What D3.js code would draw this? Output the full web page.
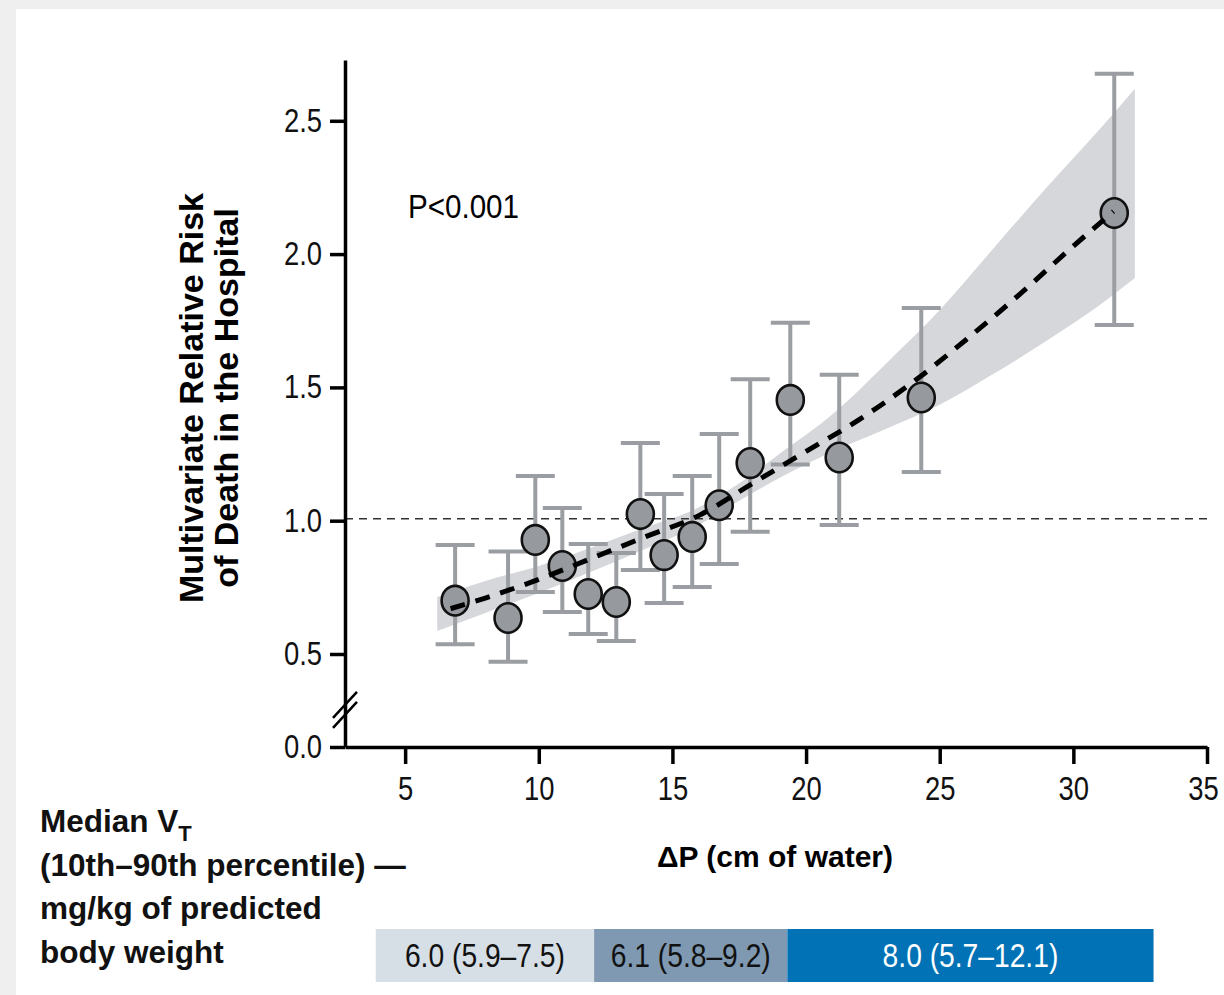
<!DOCTYPE html>
<html>
<head>
<meta charset="utf-8">
<script src="https://cdn.jsdelivr.net/npm/d3@7"></script>
<style>
  body { margin: 0; background: #efefef; }
  svg { display: block; }
  .narrow { font-family: 'Liberation Sans Narrow', 'Liberation Sans', Arial, sans-serif; }
  .bold { font-family: 'Liberation Sans', Arial, sans-serif; font-weight: bold; }
</style>
</head>
<body>
<svg id="chart" width="1224" height="995"></svg>
<script>
// bins of driving pressure (cm of water) with relative risk and 95% CI
const binDP = [6.87, 8.85, 9.87, 10.88, 11.85, 12.9, 13.8, 14.69, 15.74, 16.75, 17.91, 19.41, 21.24, 24.31, 31.53];
const binRR = [0.70, 0.635, 0.928, 0.83, 0.725, 0.695, 1.025, 0.871, 0.939, 1.058, 1.216, 1.453, 1.237, 1.462, 2.154];
const binLo = [0.537, 0.459, 0.733, 0.658, 0.575, 0.549, 0.815, 0.691, 0.751, 0.838, 0.959, 1.211, 0.984, 1.183, 1.734];
const binHi = [0.909, 0.884, 1.168, 1.048, 0.913, 0.879, 1.291, 1.10, 1.168, 1.325, 1.531, 1.742, 1.547, 1.798, 2.676];

// fitted curve (dashed) and its confidence band
const fitDP = [6.7, 8, 10, 12, 14, 16, 18, 20, 22, 24, 26, 28, 30, 31.5];
const fitRR = [0.67, 0.71, 0.78, 0.86, 0.94, 1.02, 1.14, 1.26, 1.38, 1.52, 1.68, 1.85, 2.03, 2.16];

const bandDP = [6.2, 8, 10, 12, 14, 16, 17.5, 19, 21, 23, 25, 27, 29, 31, 32.3];
const bandLo = [0.586, 0.654, 0.729, 0.81, 0.895, 0.985, 1.075, 1.16, 1.26, 1.345, 1.435, 1.55, 1.675, 1.81, 1.91];
const bandHi = [0.714, 0.774, 0.83, 0.90, 0.975, 1.05, 1.14, 1.25, 1.40, 1.59, 1.79, 2.02, 2.25, 2.47, 2.62];

// tick labels
const xTicks = [5, 10, 15, 20, 25, 30, 35];
const yTicks = [0, 0.5, 1.0, 1.5, 2.0, 2.5];

// median tidal volume legend bar: labels and the ΔP span each one covers
const vtLabels = ["6.0 (5.9–7.5)", "6.1 (5.8–9.2)", "8.0 (5.7–12.1)"];
const vtBounds = [3.9, 12.07, 19.3, 33.0];
const vtFill = ["#d6dee6", "#7f99b2", "#0072b5"];
const vtText = ["#111", "#111", "#fff"];

const legendLines = ["Median V", "(10th–90th percentile) —", "mg/kg of predicted", "body weight"];

const svg = d3.select("#chart");

// white panel over the grey page frame
svg.append("rect").attr("x", 16).attr("y", 9).attr("width", 1208).attr("height", 986).attr("fill", "#fff");

const x = d3.scaleLinear().domain([2.75, 35]).range([345, 1207]);
// broken axis: 0 to 0.5 squeezed below the break
const y = d3.scaleLinear().domain([0, 0.5, 2.728]).range([747, 654, 60]);

// confidence band
let band = bandDP.map((d, i) => ({dp: d, lo: bandLo[i], hi: bandHi[i]}));
let area = d3.area()
    .x(d => x(d.dp))
    .y0(d => y(d.lo))
    .y1(d => y(d.hi))
    .curve(d3.curveMonotoneX);
svg.append("path").datum(band).attr("d", area).attr("fill", "#d5d7da");

// reference line at RR = 1
svg.append("line")
    .attr("x1", x.range()[0]).attr("x2", x.range()[1])
    .attr("y1", y(1) - 2).attr("y2", y(1) - 2)
    .attr("stroke", "#333").attr("stroke-width", 1.6).attr("stroke-dasharray", "8,6");

// error bars
let bins = binDP.map((d, i) => ({dp: d, rr: binRR[i], lo: binLo[i], hi: binHi[i]}));
let capW = 19.5;
let bars = svg.append("g").attr("stroke", "#9a9da1").attr("stroke-width", 4);
bars.selectAll(".stem").data(bins).enter().append("line")
    .attr("x1", d => x(d.dp)).attr("x2", d => x(d.dp))
    .attr("y1", d => y(d.lo)).attr("y2", d => y(d.hi));
bars.selectAll(".capHi").data(bins).enter().append("line")
    .attr("x1", d => x(d.dp) - capW).attr("x2", d => x(d.dp) + capW)
    .attr("y1", d => y(d.hi)).attr("y2", d => y(d.hi));
bars.selectAll(".capLo").data(bins).enter().append("line")
    .attr("x1", d => x(d.dp) - capW).attr("x2", d => x(d.dp) + capW)
    .attr("y1", d => y(d.lo)).attr("y2", d => y(d.lo));

// points
svg.append("g").selectAll("ellipse").data(bins).enter().append("ellipse")
    .attr("cx", d => x(d.dp)).attr("cy", d => y(d.rr))
    .attr("rx", 13.5).attr("ry", 14.8)
    .attr("fill", "#96999e").attr("stroke", "#111").attr("stroke-width", 2.6);

// fitted curve
let fit = fitDP.map((d, i) => ({dp: d, rr: fitRR[i]}));
let line = d3.line().x(d => x(d.dp)).y(d => y(d.rr)).curve(d3.curveMonotoneX);
svg.append("path").datum(fit).attr("d", line)
    .attr("fill", "none").attr("stroke", "#000").attr("stroke-width", 5)
    .attr("stroke-dasharray", "15,11");

// axes
let xAxis = svg.append("g")
    .attr("transform", `translate(0,${y(0)})`)
    .call(d3.axisBottom(x).tickValues(xTicks).tickSizeInner(17).tickSizeOuter(0).tickPadding(13));
let yAxis = svg.append("g")
    .attr("transform", `translate(${x.range()[0]},0)`)
    .call(d3.axisLeft(y).tickValues(yTicks).tickFormat(d3.format(".1f")).tickSizeInner(15).tickSizeOuter(0).tickPadding(8));

for (let ax of [xAxis, yAxis]) {
    ax.select(".domain").attr("stroke", "#000").attr("stroke-width", 3.5);
    ax.selectAll(".tick line").attr("stroke", "#000").attr("stroke-width", 3.5);
    ax.selectAll(".tick text").attr("class", "narrow").attr("font-size", 33).attr("fill", "#111");
    ax.attr("font-family", null).attr("font-size", null);
}
// last x label sits right at the page edge; nudge it in a little
xAxis.selectAll(".tick text").filter(d => d === 35).attr("dx", -4);

// axis break marks
let yb = y(0.2);
let brk = svg.append("g").attr("stroke", "#000").attr("stroke-width", 2.5);
[-5, 5].forEach(off => {
    brk.append("line")
        .attr("x1", x.range()[0] - 12).attr("y1", yb + off + 13)
        .attr("x2", x.range()[0] + 12).attr("y2", yb + off - 13);
});

// axis titles
let yTitle = svg.append("g").attr("transform", "translate(203,398) rotate(-90)");
yTitle.append("text").attr("class", "bold").attr("font-size", 34)
    .attr("text-anchor", "middle").text("Multivariate Relative Risk");
yTitle.append("text").attr("class", "bold").attr("font-size", 34)
    .attr("text-anchor", "middle").attr("y", 35).text("of Death in the Hospital");

svg.append("text").attr("class", "bold").attr("font-size", 30)
    .attr("x", 775).attr("y", 867).attr("text-anchor", "middle")
    .text("ΔP (cm of water)");

svg.append("text").attr("class", "narrow").attr("font-size", 34)
    .attr("data-squeeze", 0.87)
    .attr("x", 408).attr("y", 218).text("P<0.001");

// left legend text
let leg = svg.append("g").attr("class", "bold").attr("font-size", 31.5).attr("fill", "#111");
legendLines.forEach((t, i) => {
    let tx = leg.append("text").attr("x", 40).attr("y", 832 + i * 43.5).text(t);
    if (i === 0) {
        tx.append("tspan").attr("font-size", 22).attr("dy", 9).text("T");
    }
});

// tidal volume bar
let vt = svg.append("g");
vtLabels.forEach((lab, i) => {
    let x0 = x(vtBounds[i]), x1 = x(vtBounds[i + 1]);
    vt.append("rect").attr("x", x0).attr("y", 929).attr("width", x1 - x0).attr("height", 53)
        .attr("fill", vtFill[i]);
    vt.append("text").attr("class", "narrow").attr("font-size", 34)
        .attr("x", (x0 + x1) / 2).attr("y", 967).attr("text-anchor", "middle")
        .attr("fill", vtText[i]).text(lab);
});

// no narrow face installed, so squeeze the condensed texts horizontally
svg.selectAll("text.narrow").each(function () {
    let f = +(this.getAttribute("data-squeeze") || 0.83);
    let w = this.getComputedTextLength();
    d3.select(this).attr("textLength", w * f).attr("lengthAdjust", "spacingAndGlyphs");
});
</script>
</body>
</html>
